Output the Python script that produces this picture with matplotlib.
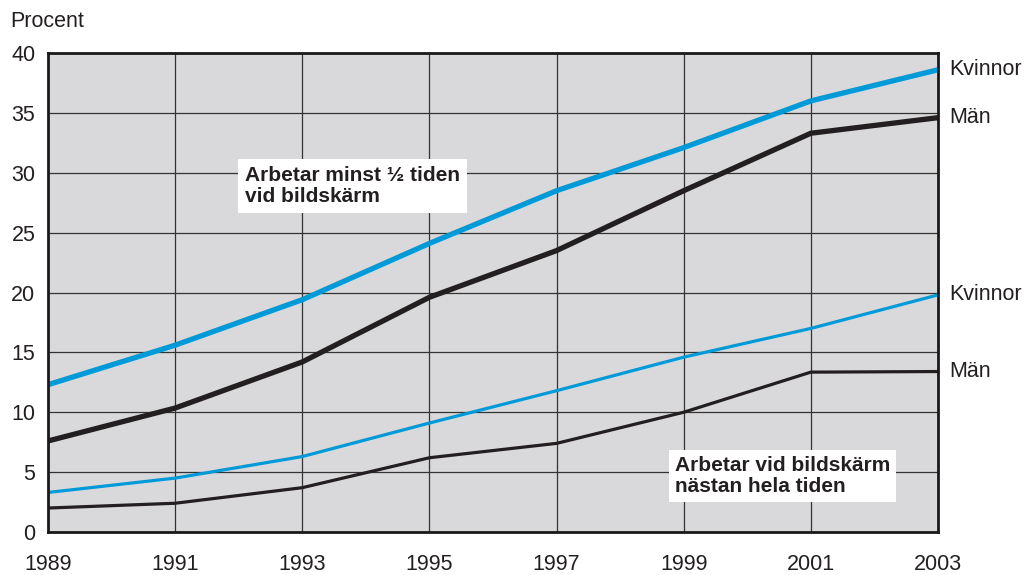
import matplotlib.pyplot as plt

plt.rcParams['font.family'] = ['Liberation Sans', 'DejaVu Sans']

years = [1989, 1991, 1993, 1995, 1997, 1999, 2001, 2003]
kvinnor_halv = [12.3, 15.6, 19.4, 24.1, 28.5, 32.1, 36.0, 38.6]
man_halv = [7.6, 10.35, 14.2, 19.6, 23.5, 28.5, 33.3, 34.6]
kvinnor_hela = [3.3, 4.5, 6.3, 9.1, 11.8, 14.6, 17.0, 19.8]
man_hela = [2.0, 2.4, 3.7, 6.2, 7.4, 10.0, 13.35, 13.4]

blue = "#009ad8"
black = "#231f20"

fig = plt.figure(figsize=(10.25, 5.75), dpi=100)
ax = fig.add_axes([0.0468, 0.0748, 0.8683, 0.833])
ax.set_facecolor("#d9d9db")

ax.plot(years, kvinnor_halv, color=blue, lw=3.8, solid_capstyle="butt", zorder=3)
ax.plot(years, man_halv, color=black, lw=3.8, solid_capstyle="butt", zorder=3)
ax.plot(years, kvinnor_hela, color=blue, lw=2.3, solid_capstyle="butt", zorder=3)
ax.plot(years, man_hela, color=black, lw=2.3, solid_capstyle="butt", zorder=3)

ax.set_xlim(1989, 2003)
ax.set_ylim(0, 40)
ax.set_xticks(years)
ax.set_yticks(range(0, 41, 5))
ax.tick_params(length=0, labelsize=15.5, colors="#231f20")
ax.tick_params(axis="x", pad=16)
ax.tick_params(axis="y", pad=9)
ax.grid(True, color="#333333", lw=0.9, zorder=1)
for s in ax.spines.values():
    s.set_linewidth(2)
    s.set_color("#1a1a1a")
    s.set_zorder(4)

# Series labels at right end
for vals, name in [(kvinnor_halv, "Kvinnor"), (man_halv, "Män"),
                   (kvinnor_hela, "Kvinnor"), (man_hela, "Män")]:
    ax.annotate(name, xy=(years[-1], vals[-1]), xytext=(8, 0),
                textcoords="offset points", va="center", ha="left",
                fontsize=15.5, color="#231f20", annotation_clip=False)

ax.text(1992.1, 28.9, "Arbetar minst ½ tiden\nvid bildskärm", fontsize=15,
        fontweight="bold", va="center", ha="left", color="#231f20", zorder=5,
        linespacing=1.1,
        bbox=dict(boxstyle="square,pad=0.35", fc="white", ec="none"))
ax.text(1998.86, 4.67, "Arbetar vid bildskärm\nnästan hela tiden", fontsize=15,
        fontweight="bold", va="center", ha="left", color="#231f20", zorder=5,
        linespacing=1.1,
        bbox=dict(boxstyle="square,pad=0.3", fc="white", ec="none"))

fig.text(0.01, 0.963, "Procent", fontsize=15.5, va="center", ha="left", color="#231f20")

fig.savefig("out.png", dpi=100)
